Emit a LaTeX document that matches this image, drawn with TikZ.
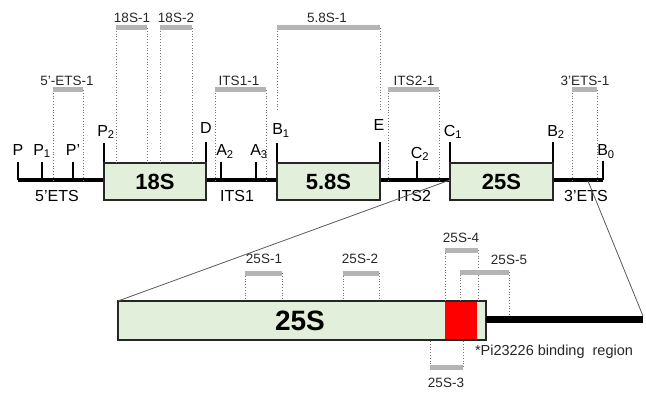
\documentclass[tikz,border=0pt]{standalone}
\usepackage{fontspec}
\setmainfont{Liberation Sans}
\definecolor{boxgreen}{RGB}{226,239,218}
\definecolor{probegray}{RGB}{180,180,180}
\definecolor{zoomgray}{RGB}{90,90,90}
\definecolor{bindred}{RGB}{255,0,0}
\begin{document}
\begin{tikzpicture}[x=1pt,y=-1pt,
  every node/.style={inner sep=0pt, outer sep=0pt},
  backbone/.style={line width=3.5pt, black},
  tickline/.style={line width=2.2pt, black},
  region/.style={draw=black!85, line width=1.8pt, fill=boxgreen},
  probe/.style={line width=5pt, draw=probegray},
  guide/.style={dotted, line width=0.8pt, draw=black!55},
  ticklabel/.style={font=\fontsize{16}{16}\selectfont, anchor=base},
  seglabel/.style={font=\fontsize{16}{16}\selectfont, anchor=base},
  probelabel/.style={font=\fontsize{13.5}{14}\selectfont, anchor=base, text=black!85},
  boxlabel/.style={font=\fontsize{22}{22}\selectfont\bfseries},
  zoomline/.style={line width=0.8pt, draw=zoomgray}
]
\useasboundingbox (0,0) rectangle (646,396);

% ---- backbone and tick coordinates
\coordinate (lineL) at (18,180);
\coordinate (lineR) at (603,180);
\draw[backbone] (lineL) -- (lineR);

\foreach \n/\x/\t in {P/18/162, P1/42/162, Pp/73/162, P2/104/143, D/206/142,
  A2/221/162, A3/256/162, B1/277/143, E/380/142, C2/417/161, C1/450/142,
  B2/553/142, B0/603/161}{
  \coordinate (\n-base) at (\x,180);
  \coordinate (\n-top) at (\x,\t);
  \draw[tickline] (\n-base) -- (\n-top);
}

% ---- regions
\node[region, minimum width=102pt, minimum height=37pt] (r18S) at (155,181.5) {};
\node[region, minimum width=103pt, minimum height=37pt] (r58S) at (328.5,181.5) {};
\node[region, minimum width=103pt, minimum height=37pt] (r25S) at (501.5,181.5) {};
\node[boxlabel] (t18S) at (r18S) {18S};
\node[boxlabel] (t58S) at (r58S) {5.8S};
\node[boxlabel] (t25S) at (r25S) {25S};

% ---- tick labels
\node[ticklabel] (lP)  at (18,155) {P};
\node[ticklabel] (lP1) at (42,155) {P\textsubscript{1}};
\node[ticklabel] (lPp) at (73,155) {P'};
\node[ticklabel] (lP2) at (106,136) {P\textsubscript{2}};
\node[ticklabel] (lD)  at (206,134) {D};
\node[ticklabel] (lA2) at (225,156) {A\textsubscript{2}};
\node[ticklabel] (lA3) at (259,156) {A\textsubscript{3}};
\node[ticklabel] (lB1) at (281,135) {B\textsubscript{1}};
\node[ticklabel] (lE)  at (379,131) {E};
\node[ticklabel] (lC2) at (420,158) {C\textsubscript{2}};
\node[ticklabel] (lC1) at (453,136) {C\textsubscript{1}};
\node[ticklabel] (lB2) at (556,136) {B\textsubscript{2}};
\node[ticklabel] (lB0) at (606,156) {B\textsubscript{0}};

% ---- segment labels
\node[seglabel] (s5ETS) at (57,201) {5'ETS};
\node[seglabel] (sITS1) at (237,201) {ITS1};
\node[seglabel] (sITS2) at (414,201) {ITS2};
\node[seglabel] (s3ETS) at (586,201) {3'ETS};

% ---- probes on the precursor
\foreach \n/\a/\b/\y/\e in {pETS5/53/83/90/180, p18S1/116/147/28/163, p18S2/160/192/28/163,
  pITS1/215/266/90/180, p58S/277/380/28/110, pITS2/388/439/90/180, pETS3/572/597/90/180}{
  \coordinate (\n-a) at (\a,\y);
  \coordinate (\n-b) at (\b,\y);
  \coordinate (\n-ae) at (\a,\e);
  \coordinate (\n-be) at (\b,\e);
  \draw[guide] (\n-a) -- (\n-ae);
  \draw[guide] (\n-b) -- (\n-be);
  \draw[probe] (\n-a) -- (\n-b);
}
\node[probelabel] (lpETS5) at (67,85) {5'-ETS-1};
\node[probelabel] (lp18S1) at (132,23) {18S-1};
\node[probelabel] (lp18S2) at (176,23) {18S-2};
\node[probelabel] (lpITS1) at (239,85) {ITS1-1};
\node[probelabel] (lp58S)  at (327,23) {5.8S-1};
\node[probelabel] (lpITS2) at (414,85) {ITS2-1};
\node[probelabel] (lpETS3) at (585,85) {3'ETS-1};

% ---- enlarged 25S
\node[region, minimum width=368pt, minimum height=39pt] (big25S) at (302,320.5) {};
\fill[bindred] (445,302) rectangle (477,339);
\draw[draw=black!85, line width=1.8pt] (big25S.north west) rectangle (big25S.south east);
\node[font=\fontsize{28}{28}\selectfont\bfseries] (tbig) at (300,321) {25S};
\coordinate (tailR) at (643,319.5);
\draw[line width=7pt, black] (big25S.east |- tailR) -- (tailR);

% zoom lines
\coordinate (zR) at (588,181);
\draw[zoomline] (big25S.north west) -- (C1-base);
\draw[zoomline] (zR) -- (643,316);

% ---- probes on 25S
\foreach \n/\a/\b/\y/\ea/\eb in {q1/245/282/273/301/301, q2/343/379/273/301/301,
  q4/445/478/250/301/301, q5/460/509/272/301/316}{
  \coordinate (\n-a) at (\a,\y);
  \coordinate (\n-b) at (\b,\y);
  \coordinate (\n-ae) at (\a,\ea);
  \coordinate (\n-be) at (\b,\eb);
  \draw[guide] (\n-a) -- (\n-ae);
  \draw[guide] (\n-b) -- (\n-be);
  \draw[probe] (\n-a) -- (\n-b);
}
\coordinate (q3-a) at (430,367);
\coordinate (q3-b) at (463,367);
\draw[guide] (q3-a) -- (430,340);
\draw[guide] (q3-b) -- (463,340);
\draw[probe] (q3-a) -- (q3-b);

\node[probelabel] (lq1) at (264,263) {25S-1};
\node[probelabel] (lq2) at (360,263) {25S-2};
\node[probelabel] (lq4) at (461,242) {25S-4};
\node[probelabel] (lq5) at (509,264) {25S-5};
\node[probelabel] (lq3) at (446,387) {25S-3};

\node[font=\fontsize{14.5}{15}\selectfont, anchor=base west, text=black!85] (note) at (475,355) {*Pi23226 binding\ \ region};
\end{tikzpicture}
\end{document}
